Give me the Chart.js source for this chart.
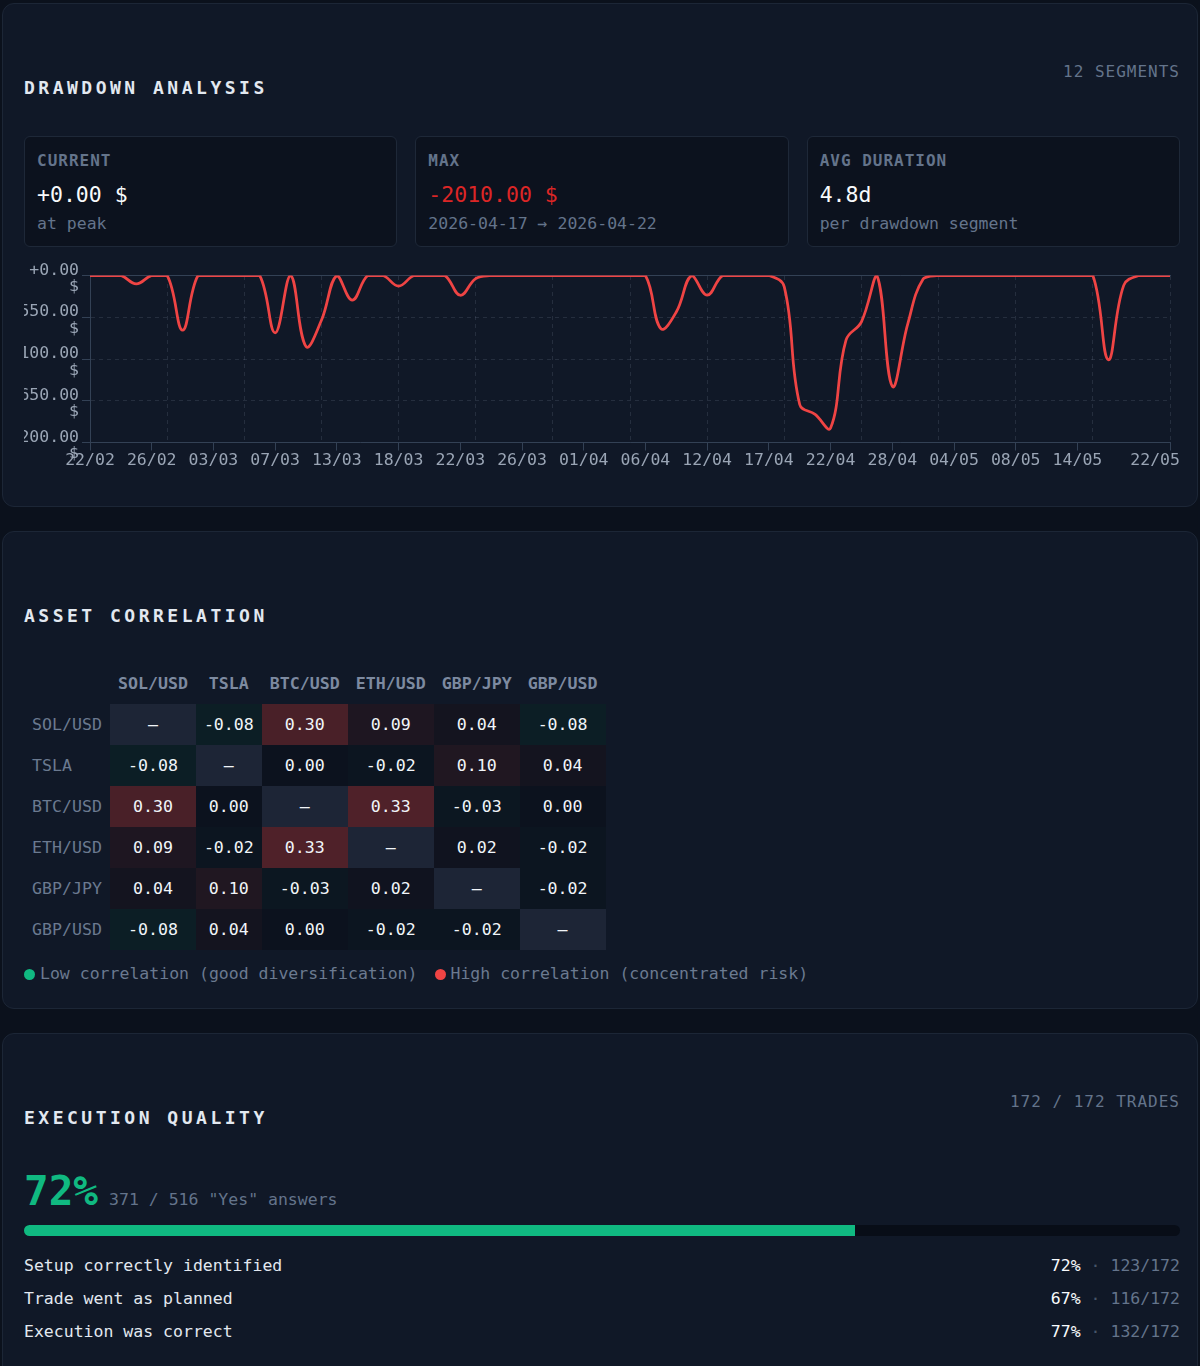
<!DOCTYPE html>
<html lang="en">
<head>
<meta charset="utf-8">
<title>Drawdown · Correlation · Execution</title>
<script src="https://cdn.jsdelivr.net/npm/chart.js@4.4.1/dist/chart.umd.min.js"></script>
<style>
  * { box-sizing: border-box; }
  body {
    margin: 0;
    background: #0b111c;
    color: #e2e8f0;
    font-family: 'DejaVu Sans Mono', monospace;
    font-size: 16.5px;
  }
  .wrap { padding: 3px 2px 0; }
  .panel {
    background: #101827;
    border: 1px solid #1c2636;
    border-radius: 12px;
    padding: 58px 17px 0 21px;
    margin-bottom: 24px;
  }
  .panel--dd   { height: 504px; }
  .panel--corr { height: 478px; }
  .panel--exec { height: 420px; }

  .panel__head { display: flex; justify-content: space-between; align-items: flex-start; height: 37px; }
  .panel__title {
    margin: 15px 0 0;
    font-size: 18px; line-height: 22px; font-weight: 700;
    letter-spacing: 3.5px; color: #e2e8f0;
  }
  .panel__meta { font-size: 16px; line-height: 20px; letter-spacing: 1px; color: #64748b; }

  /* summary cards */
  .cards { display: grid; grid-template-columns: repeat(3, 1fr); gap: 18px; margin-top: 37px; }
  .card {
    height: 111px; background: #0c121e; border: 1px solid #1e2838;
    border-radius: 6px; padding: 14px 12px 12px;
  }
  .card__label { font-size: 16px; line-height: 20px; font-weight: 700; letter-spacing: 1px; color: #64748b; }
  .card__value { margin-top: 11px; font-size: 21.5px; line-height: 26px; color: #f8fafc; }
  .card__value.neg { color: #dc2626; }
  .card__sub { margin-top: 6px; font-size: 16.5px; line-height: 20px; color: #64748b; }

  .chart-box { position: relative; height: 215px; margin-top: 9px; }

  /* correlation table */
  .corr { margin-top: 36px; border-collapse: collapse; border-spacing: 0; }
  .corr th, .corr td { height: 41px; padding: 0 8px; text-align: center; white-space: nowrap; font-size: 16.6px; }
  .corr thead th { font-weight: 700; color: #7d8aa0; }
  .corr tbody th { font-weight: 400; color: #6b7a90; text-align: left; }
  .corr td { color: #f1f5f9; }

  .legend { margin-top: 14px; display: flex; gap: 17px; line-height: 20px; color: #6b7a90; }
  .legend__dot { display: inline-block; width: 11px; height: 11px; border-radius: 50%; margin-right: 5px; vertical-align: -1px; }

  /* execution */
  .score { margin-top: 38px; display: flex; align-items: baseline; gap: 11px; line-height: 48px; }
  .score__pct { font-size: 41px; font-weight: 700; color: #10b981; }
  .score__sub { color: #64748b; }
  .bar { margin-top: 1px; height: 11px; border-radius: 6px; background: #080d17; overflow: hidden; }
  .bar__fill { height: 100%; background: #10b981; }
  .rows { margin-top: 13px; }
  .row { display: flex; justify-content: space-between; line-height: 33px; color: #e2e8f0; white-space: pre; }
  .row__pct { color: #f8fafc; }
  .row__sep { color: #475569; }
  .row__cnt { color: #64748b; }
</style>
</head>
<body>
<div class="wrap">

  <section class="panel panel--dd">
    <div class="panel__head">
      <h2 class="panel__title">DRAWDOWN ANALYSIS</h2>
      <div class="panel__meta" id="ddSegments"></div>
    </div>
    <div class="cards">
      <div class="card">
        <div class="card__label">CURRENT</div>
        <div class="card__value" id="ddCurrent"></div>
        <div class="card__sub">at peak</div>
      </div>
      <div class="card">
        <div class="card__label">MAX</div>
        <div class="card__value neg" id="ddMax"></div>
        <div class="card__sub" id="ddMaxRange"></div>
      </div>
      <div class="card">
        <div class="card__label">AVG DURATION</div>
        <div class="card__value">4.8d</div>
        <div class="card__sub">per drawdown segment</div>
      </div>
    </div>
    <div class="chart-box"><canvas id="ddChart"></canvas></div>
  </section>

  <section class="panel panel--corr">
    <div class="panel__head">
      <h2 class="panel__title">ASSET CORRELATION</h2>
      <div class="panel__meta"></div>
    </div>
    <table class="corr" id="corrTable"></table>
    <div class="legend">
      <span><i class="legend__dot" style="background:#10b981"></i>Low correlation (good diversification)</span>
      <span><i class="legend__dot" style="background:#ef4444"></i>High correlation (concentrated risk)</span>
    </div>
  </section>

  <section class="panel panel--exec">
    <div class="panel__head">
      <h2 class="panel__title">EXECUTION QUALITY</h2>
      <div class="panel__meta" id="execTrades"></div>
    </div>
    <div class="score">
      <span class="score__pct" id="execPct"></span>
      <span class="score__sub" id="execSub"></span>
    </div>
    <div class="bar"><div class="bar__fill" id="execBar"></div></div>
    <div class="rows" id="execRows"></div>
  </section>

</div>

<script>
'use strict';

// Drawdown curve: one point per session
const ddDates = [
  '22/02','23/02','24/02','25/02','26/02','27/02','28/02','01/03','03/03','04/03',
  '05/03','06/03','07/03','09/03','10/03','11/03','13/03','14/03','15/03','16/03',
  '18/03','19/03','20/03','21/03','22/03','23/03','24/03','25/03','26/03','27/03',
  '29/03','30/03','01/04','02/04','03/04','04/04','06/04','07/04','08/04','10/04',
  '12/04','13/04','14/04','15/04','17/04','18/04','19/04','20/04','22/04','23/04',
  '24/04','26/04','28/04','29/04','30/04','02/05','04/05','05/05','06/05','07/05',
  '08/05','10/05','11/05','12/05','14/05','15/05','17/05','18/05','19/05','20/05',
  '22/05'
];
const ddValues = [
  0, 0, 0, -110, 0, 0, -720, 0, 0, 0,
  0, 0, -755, 0, -935, -590, 0, -325, 0, 0,
  -140, 0, 0, 0, -260, -40, 0, 0, 0, 0,
  0, 0, 0, 0, 0, 0, 0, -700, -480, 0,
  -260, 0, 0, 0, 0, -150, -1700, -1830, -2010, -850,
  -610, 0, -1460, -640, -45, 0, 0, 0, 0, 0,
  0, 0, 0, 0, 0, 0, -1110, -130, 0, 0,
  0
];
const ddYear = 2026;
const xTickLabels = ['22/02','26/02','03/03','07/03','13/03','18/03','22/03','26/03','01/04',
  '06/04','12/04','17/04','22/04','28/04','04/05','08/05','14/05','22/05'];
const yTickValues = [-2200, -1650, -1100, -550, 0];

// Correlation matrix
const assets = ['SOL/USD', 'TSLA', 'BTC/USD', 'ETH/USD', 'GBP/JPY', 'GBP/USD'];
const corr = [
  [null, -0.08,  0.30,  0.09,  0.04, -0.08],
  [-0.08, null,  0.00, -0.02,  0.10,  0.04],
  [ 0.30, 0.00,  null,  0.33, -0.03,  0.00],
  [ 0.09, -0.02, 0.33,  null,  0.02, -0.02],
  [ 0.04, 0.10, -0.03,  0.02,  null, -0.02],
  [-0.08, 0.04,  0.00, -0.02, -0.02,  null]
];

// Execution checklist
const execQuestions = ['Setup correctly identified', 'Trade went as planned', 'Execution was correct'];
const execYes = [123, 116, 132];
const execTotal = 172;

const MONO = "'DejaVu Sans Mono', monospace";
const TICK = '#9aa5b5';
const AXIS = '#334155';
const GRID = 'rgba(148,163,184,.16)';

const fmtUsd = v => (v >= 0 ? '+' : '-') + Math.abs(v).toFixed(2) + ' $';
const isoDate = d => { const [dd, mm] = d.split('/'); return `${ddYear}-${mm}-${dd}`; };

document.addEventListener('DOMContentLoaded', () => {
  renderDrawdown();
  renderCorrelation();
  renderExecution();
});

function renderDrawdown() {
  // Summary
  let segments = 0;
  ddValues.forEach((v, i) => { if (v < 0 && (i === 0 || ddValues[i - 1] >= 0)) segments++; });
  const maxDd = Math.min(...ddValues);
  const troughIdx = ddValues.indexOf(maxDd);
  let peakIdx = troughIdx;
  while (peakIdx > 0 && ddValues[peakIdx] < 0) peakIdx--;

  document.getElementById('ddSegments').textContent = `${segments} SEGMENTS`;
  document.getElementById('ddCurrent').textContent  = fmtUsd(ddValues[ddValues.length - 1]);
  document.getElementById('ddMax').textContent      = fmtUsd(maxDd);
  document.getElementById('ddMaxRange').textContent = `${isoDate(ddDates[peakIdx])} → ${isoDate(ddDates[troughIdx])}`;

  Chart.defaults.font.family = MONO;
  const tickFont = { family: MONO, size: 16.5, lineHeight: 1 };

  new Chart(document.getElementById('ddChart'), {
    type: 'line',
    data: {
      labels: ddDates,
      datasets: [{
        data: ddValues,
        borderColor: '#ef4444',
        borderWidth: 2.75,
        pointRadius: 0,
        pointHoverRadius: 0,
        tension: .4,
        fill: false,
      }]
    },
    options: {
      responsive: true,
      maintainAspectRatio: false,
      animation: false,
      layout: { padding: 0 },
      plugins: { legend: { display: false }, tooltip: { enabled: false } },
      scales: {
        x: {
          type: 'category',
          position: 'bottom',
          grid: { drawOnChartArea: false, color: AXIS, tickLength: 8 },
          border: { color: AXIS },
          ticks: {
            color: TICK, font: tickFont, padding: 2, autoSkip: false, maxRotation: 0,
            callback(value, index, ticks) {
              const lbl = this.getLabelForValue(value);
              return index === ticks.length - 1 ? lbl + '   ' : lbl;
            }
          },
          afterBuildTicks: s => { s.ticks = s.ticks.filter(t => xTickLabels.includes(ddDates[t.value])); },
          afterFit: s => { s.paddingLeft = 0; s.paddingRight = 10; }
        },
        // background grid: even vertical guides + solid top rule
        xGrid: {
          type: 'linear',
          position: 'top',
          min: 0, max: 14,
          ticks: { display: false, stepSize: 1 },
          grid: { color: GRID, drawTicks: false },
          border: { color: AXIS, dash: [4, 4] },
          afterFit: s => { s.height = 0; }
        },
        y: {
          min: -2200,
          max: 0,
          grid: { color: GRID, tickColor: AXIS, tickLength: 8 },
          border: { color: AXIS, dash: [4, 4] },
          ticks: {
            color: TICK, font: tickFont, padding: 3, labelOffset: 3,
            callback: v => [(v >= 0 ? '+' : '-') + Math.abs(v).toFixed(2), '$']
          },
          afterBuildTicks: s => { s.ticks = yTickValues.map(v => ({ value: v })); },
          afterFit: s => { s.width = 66; }
        }
      }
    }
  });
}

function cellColor(v) {
  if (v === null) return '#1d2536';
  const base = [12, 18, 30];
  const tgt = v > 0 ? [239, 68, 68] : [16, 185, 129];
  const a = Math.min(1, Math.abs(v) * 0.9);
  const c = base.map((b, i) => Math.round(b + (tgt[i] - b) * a));
  return `rgb(${c.join(',')})`;
}

function renderCorrelation() {
  const table = document.getElementById('corrTable');
  const head = `<thead><tr><th></th>${assets.map(a => `<th>${a}</th>`).join('')}</tr></thead>`;
  const body = corr.map((row, r) => `<tr>
      <th>${assets[r]}</th>
      ${row.map(v => `<td style="background:${cellColor(v)}">${v === null ? '—' : v.toFixed(2)}</td>`).join('')}
    </tr>`).join('');
  table.innerHTML = head + `<tbody>${body}</tbody>`;
}

function renderExecution() {
  const yes = execYes.reduce((a, b) => a + b, 0);
  const total = execTotal * execQuestions.length;
  const pct = Math.round(yes / total * 100);

  document.getElementById('execTrades').textContent = `${execTotal} / ${execTotal} TRADES`;
  document.getElementById('execPct').textContent = `${pct}%`;
  document.getElementById('execSub').textContent = `${yes} / ${total} "Yes" answers`;
  document.getElementById('execBar').style.width = (yes / total * 100) + '%';

  document.getElementById('execRows').innerHTML = execQuestions.map((q, i) => `
    <div class="row">
      <span>${q}</span>
      <span><span class="row__pct">${Math.round(execYes[i] / execTotal * 100)}%</span><span class="row__sep"> · </span><span class="row__cnt">${execYes[i]}/${execTotal}</span></span>
    </div>`).join('');
}
</script>
</body>
</html>
